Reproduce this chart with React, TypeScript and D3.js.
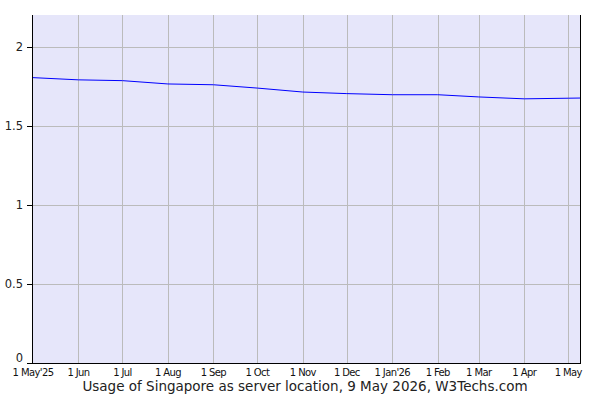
import React, { useRef, useEffect } from 'react';
import * as d3 from 'd3';

// --- DATA ---
const dates = [
  '2025-05-01', '2025-06-01', '2025-07-01', '2025-08-01', '2025-09-01', '2025-10-01',
  '2025-11-01', '2025-12-01', '2026-01-01', '2026-02-01', '2026-03-01', '2026-04-01',
  '2026-05-01', '2026-05-09',
];
const usage = [1.804, 1.79, 1.785, 1.764, 1.759, 1.738, 1.713, 1.703, 1.696, 1.696, 1.682, 1.67, 1.674, 1.675];
const yTicks = [0, 0.5, 1, 1.5, 2];
const xTickDates = [
  '2025-05-01', '2025-06-01', '2025-07-01', '2025-08-01', '2025-09-01', '2025-10-01',
  '2025-11-01', '2025-12-01', '2026-01-01', '2026-02-01', '2026-03-01', '2026-04-01', '2026-05-01',
];
const xTickLabels = [
  "1 May'25", '1 Jun', '1 Jul', '1 Aug', '1 Sep', '1 Oct', '1 Nov', '1 Dec',
  "1 Jan'26", '1 Feb', '1 Mar', '1 Apr', '1 May',
];
const title = 'Usage of Singapore as server location, 9 May 2026, W3Techs.com';

const parse = d3.utcParse('%Y-%m-%d');

export default function App() {
  const svgRef = useRef<SVGSVGElement>(null);

  useEffect(() => {
    if (!svgRef.current) return;
    const W = 600, H = 400;
    const margin = { top: 15, right: 20, bottom: 37, left: 33 };
    const width = W - margin.left - margin.right;
    const height = H - margin.top - margin.bottom;

    const svg = d3.select(svgRef.current);
    svg.selectAll('*').remove();

    const chart = svg.append('g').attr('transform', `translate(${margin.left},${margin.top})`);

    const x = d3.scaleUtc()
      .domain([parse(dates[0])!, parse(dates[dates.length - 1])!])
      .range([0, width]);
    const y = d3.scaleLinear().domain([0, 2.2]).range([height, 0]);

    chart.append('rect')
      .attr('width', width).attr('height', height)
      .attr('fill', '#e6e6fa');

    // grid
    chart.append('g')
      .selectAll('line')
      .data(yTicks.filter(t => t > 0))
      .enter().append('line')
      .attr('x1', 0).attr('x2', width)
      .attr('y1', d => Math.round(y(d)) + 0.5).attr('y2', d => Math.round(y(d)) + 0.5)
      .attr('stroke', '#bbbbbb');

    chart.append('g')
      .selectAll('line')
      .data(xTickDates.slice(1))
      .enter().append('line')
      .attr('x1', d => Math.round(x(parse(d)!)) + 0.5).attr('x2', d => Math.round(x(parse(d)!)) + 0.5)
      .attr('y1', 0).attr('y2', height)
      .attr('stroke', '#bbbbbb');

    // line
    const line = d3.line<number>()
      .x((_, i) => x(parse(dates[i])!))
      .y(d => y(d));
    chart.append('path')
      .datum(usage)
      .attr('d', line)
      .attr('fill', 'none')
      .attr('stroke', '#0000ff')
      .attr('stroke-width', 1);

    // axes
    chart.append('line')
      .attr('x1', -0.5).attr('x2', -0.5).attr('y1', 0).attr('y2', height + 0.5)
      .attr('stroke', '#000');
    chart.append('line')
      .attr('x1', width + 0.5).attr('x2', width + 0.5).attr('y1', 0).attr('y2', height + 0.5)
      .attr('stroke', '#000');
    chart.append('line')
      .attr('x1', -0.5).attr('x2', width + 1).attr('y1', height + 0.5).attr('y2', height + 0.5)
      .attr('stroke', '#000');

    // y ticks
    const yAxis = chart.append('g');
    yAxis.selectAll('line')
      .data(yTicks)
      .enter().append('line')
      .attr('x1', -6).attr('x2', 0)
      .attr('y1', d => Math.round(y(d)) + 0.5).attr('y2', d => Math.round(y(d)) + 0.5)
      .attr('stroke', '#000');
    yAxis.selectAll('text')
      .data(yTicks)
      .enter().append('text')
      .attr('x', -10)
      .attr('y', d => y(d) + (d === 0 ? -1 : 4))
      .attr('text-anchor', 'end')
      .style('font-family', 'DejaVu Sans, Verdana, sans-serif')
      .style('font-size', '11.5px')
      .attr('fill', '#222')
      .text(d => String(d));

    // x labels
    chart.append('g')
      .selectAll('text')
      .data(xTickDates)
      .enter().append('text')
      .attr('x', d => x(parse(d)!))
      .attr('y', height + 13)
      .attr('text-anchor', 'middle')
      .style('font-family', 'DejaVu Sans, Verdana, sans-serif')
      .style('font-size', '10px')
      .style('letter-spacing', '-0.6px')
      .attr('fill', '#111')
      .text((_, i) => xTickLabels[i]);

    svg.append('text')
      .attr('x', 305)
      .attr('y', 391)
      .attr('text-anchor', 'middle')
      .style('font-family', 'DejaVu Sans, Verdana, sans-serif')
      .style('font-size', '13.5px')
      .attr('fill', '#222')
      .text(title);
  }, []);

  return (
    <div style={{ position: 'absolute', left: 0, top: 0, width: 600, height: 400, overflow: 'hidden' }}>
      <svg ref={svgRef} width={600} height={400} style={{ display: 'block' }}></svg>
    </div>
  );
}
